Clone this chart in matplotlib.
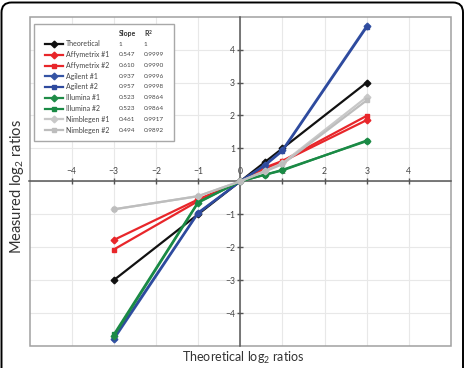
import numpy as np
import matplotlib
import matplotlib.pyplot as plt
from matplotlib.patches import FancyBboxPatch, Rectangle
from matplotlib.lines import Line2D

plt.rcParams["font.family"] = ["Lato", "DejaVu Sans"]
plt.rcParams["mathtext.default"] = "regular"

# theoretical log2 ratios (x positions of the measurements)
theo_x = [-3, -1, 0, 0.585, 1, 3]

series_names = ["Theoretical", "Affymetrix #1", "Affymetrix #2", "Agilent #1", "Agilent #2",
                "Illumina #1", "Illumina #2", "Nimblegen #1", "Nimblegen #2"]
slopes = ["1", "0.547", "0.610", "0.937", "0.957", "0.523", "0.523", "0.461", "0.494"]
r2 = ["1", "0.9999", "0.9990", "0.9996", "0.9998", "0.9864", "0.9864", "0.9917", "0.9892"]

measured = [
    [-3, -1, 0, 0.585, 1, 3],
    [-1.78, -0.55, 0, 0.38, 0.6, 1.86],
    [-2.07, -0.6, 0, 0.42, 0.62, 1.99],
    [-4.8, -0.97, 0, 0.5, 0.95, 4.72],
    [-4.75, -0.95, 0, 0.48, 0.92, 4.68],
    [-4.7, -0.65, 0, 0.2, 0.35, 1.22],
    [-4.65, -0.63, 0, 0.2, 0.33, 1.24],
    [-0.85, -0.45, 0, 0.32, 0.55, 2.56],
    [-0.85, -0.45, 0, 0.3, 0.52, 2.46],
]

colors = ["#111111", "#e8262a", "#e8262a", "#3554a4", "#2e4a9e",
          "#1f8c48", "#1a8a45", "#c8c8c8", "#bdbdbd"]
markers = ["D", "D", "s", "D", "s", "D", "s", "D", "s"]

W, H = 467, 368
fig = plt.figure(figsize=(W / 100, H / 100), dpi=100)


def fx(x):
    return x / W


def fy(y):
    return 1 - y / H


ax = fig.add_axes([fx(29.5), fy(346), fx(451) - fx(29.5), fy(16.7) - fy(346)])
ax.set_xlim(-5, 5)
ax.set_ylim(-5, 5)

# grid
for v in range(-4, 5):
    ax.axvline(v, color="#e8e8e8", lw=0.8, zorder=0)
    ax.axhline(v, color="#e8e8e8", lw=0.8, zorder=0)

# axes through origin
for s in ["bottom", "right"]:
    ax.spines[s].set_visible(False)
ax.spines["top"].set_position(("data", 0))
ax.spines["left"].set_position(("data", 0))
ax.spines["top"].set_color("#555555")
ax.spines["left"].set_color("#555555")
ax.spines["top"].set_linewidth(1.1)
ax.spines["left"].set_linewidth(1.1)
ax.xaxis.tick_top()
ax.set_xticks(range(-4, 5))
ax.set_yticks([-4, -3, -2, -1, 1, 2, 3, 4])
ax.tick_params(direction="inout", length=4.5, width=1, color="#555555",
               labelsize=6.2, labelcolor="#444444", pad=1.5)

# plot frame
ax.add_patch(Rectangle((0, 0), 1, 1, transform=ax.transAxes, fill=False,
                       edgecolor="#a0a0a0", lw=1.1, zorder=1, clip_on=False))

for name, ys, c, m in zip(series_names, measured, colors, markers):
    ax.plot(theo_x, ys, color=c, lw=1.6, marker=m, ms=3.4, mec=c, mfc=c, zorder=3)

# legend table
ax.add_patch(Rectangle((fx(34), fy(140.7)), fx(174) - fx(34), fy(24) - fy(140.7),
                       transform=fig.transFigure, facecolor="white",
                       edgecolor="#a8a8a8", lw=1.0, zorder=5))
fs = 5.0
fsn = 4.6
fig.text(fx(119), fy(33.5), "Slope", fontsize=fs, fontweight="bold", color="#333333",
         va="center", ha="left", zorder=6)
fig.text(fx(144), fy(33.5), "R$^{2}$", fontsize=fs, fontweight="bold", color="#333333",
         va="center", ha="left", zorder=6)
for i, (name, c, m) in enumerate(zip(series_names, colors, markers)):
    yy = fy(44 + i * 10.75)
    fig.add_artist(Line2D([fx(45), fx(63)], [yy, yy], color=c, lw=1.6, zorder=6))
    fig.add_artist(Line2D([fx(54)], [yy], color=c, marker=m, ms=3.4, zorder=6))
    fig.text(fx(66), yy, name, fontsize=fs, color="#444444", va="center", ha="left", zorder=6)
    fig.text(fx(119), yy, slopes[i], fontsize=fsn, color="#444444", va="center", ha="left", zorder=6)
    fig.text(fx(144), yy, r2[i], fontsize=fsn, color="#444444", va="center", ha="left", zorder=6)

fig.text(fx(17), fy(187), "Measured log$_2$ ratios", rotation=90, fontsize=10.5,
         color="#333333", ha="center", va="center")
fig.text(fx(243), fy(358), "Theoretical log$_2$ ratios", fontsize=9,
         color="#333333", ha="center", va="center")

# rounded outer border
fig.patches.append(FancyBboxPatch((1.5, -20), 461.5, 385.5,
                                  boxstyle="round,pad=0,rounding_size=10",
                                  transform=None, fill=False, edgecolor="black", lw=1.4))

fig.savefig("out.png", dpi=100)
